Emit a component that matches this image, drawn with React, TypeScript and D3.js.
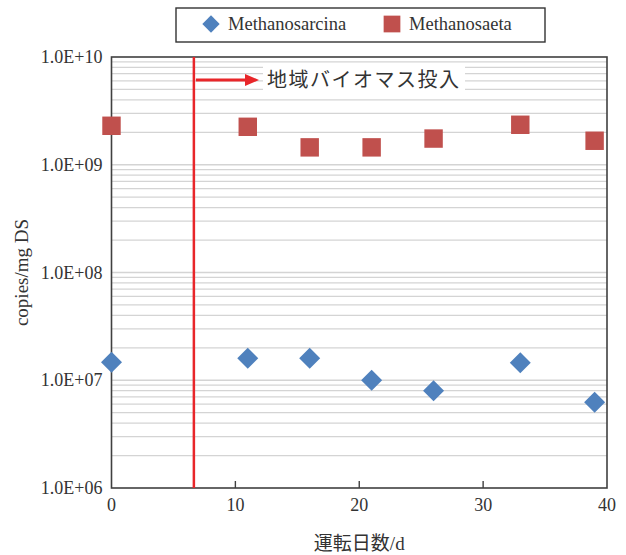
import * as d3 from "d3";
import { useEffect, useRef } from "react";

const days = [0, 11, 16, 21, 26, 33, 39];
const sarcina = [1.47e7, 1.6e7, 1.6e7, 1.0e7, 8.0e6, 1.45e7, 6.25e6];
const saeta = [2.3e9, 2.25e9, 1.45e9, 1.45e9, 1.75e9, 2.35e9, 1.67e9];
const yTicks = [1e6, 1e7, 1e8, 1e9, 1e10];
const xTicks = [0, 10, 20, 30, 40];
const startDay = 6.65;
const seriesNames = ["Methanosarcina", "Methanosaeta"];
const note = "地域バイオマス投入";

const FONT = "'Liberation Serif', 'Times New Roman', 'Noto Sans CJK JP', serif";
const BLUE = "#4f81bd";
const RED = "#c0504d";
const AXIS = "#404040";

const App = () => {
	const ref = useRef(null);
	const margin = { top: 57, left: 111.5, right: 19, bottom: 67 };
	const width = 626;
	const height = 555;

	useEffect(() => {
		const svg = d3.select(ref.current);
		svg.selectAll("*").remove();
		const x = d3.scaleLinear().domain([0, 40]).range([margin.left, width - margin.right]);
		const y = d3.scaleLog().domain([1e6, 1e10]).range([height - margin.bottom, margin.top]);

		// minor + major grid
		const grid = [];
		for (let e = 6; e < 10; e++) {
			for (let m = 1; m <= 9; m++) grid.push(m * Math.pow(10, e));
		}
		svg.append("g")
			.selectAll("line")
			.data(grid.filter(v => v > 1e6))
			.enter()
			.append("line")
			.attr("x1", x(0))
			.attr("x2", x(40))
			.attr("y1", d => y(d))
			.attr("y2", d => y(d))
			.attr("stroke", "#d4d4d4")
			.attr("stroke-width", 1.3);

		// annotation background
		svg.append("rect")
			.attr("x", 263)
			.attr("y", 64)
			.attr("width", 202)
			.attr("height", 32)
			.attr("fill", "#fff");

		// frame
		svg.append("rect")
			.attr("x", x(0))
			.attr("y", y(1e10))
			.attr("width", x(40) - x(0))
			.attr("height", y(1e6) - y(1e10))
			.attr("fill", "none")
			.attr("stroke", AXIS)
			.attr("stroke-width", 1.6);

		// x ticks (inside)
		svg.append("g")
			.selectAll("line")
			.data(xTicks.slice(1, -1))
			.enter()
			.append("line")
			.attr("x1", d => x(d))
			.attr("x2", d => x(d))
			.attr("y1", y(1e6))
			.attr("y2", y(1e6) - 7)
			.attr("stroke", AXIS)
			.attr("stroke-width", 1.4);

		svg.append("g")
			.selectAll("text")
			.data(xTicks)
			.enter()
			.append("text")
			.attr("x", d => x(d))
			.attr("y", y(1e6) + 23)
			.attr("text-anchor", "middle")
			.attr("font-family", FONT)
			.attr("font-size", 18)
			.attr("fill", "#333")
			.text(d => d);

		svg.append("g")
			.selectAll("text")
			.data(yTicks)
			.enter()
			.append("text")
			.attr("x", x(0) - 9)
			.attr("y", d => y(d) + 6)
			.attr("text-anchor", "end")
			.attr("font-family", FONT)
			.attr("font-size", 18)
			.attr("fill", "#333")
			.text(d => "1.0E+" + String(Math.round(Math.log10(d))).padStart(2, "0"));

		// axis titles
		svg.append("text")
			.attr("x", (x(0) + x(40)) / 2)
			.attr("y", 550)
			.attr("text-anchor", "middle")
			.attr("font-family", FONT)
			.attr("font-size", 19)
			.attr("fill", "#333")
			.text("運転日数/d");

		svg.append("text")
			.attr("transform", `translate(28, ${(y(1e6) + y(1e10)) / 2}) rotate(-90)`)
			.attr("text-anchor", "middle")
			.attr("font-family", FONT)
			.attr("font-size", 19)
			.attr("fill", "#333")
			.text("copies/mg DS");

		// start line + arrow
		svg.append("line")
			.attr("x1", x(startDay))
			.attr("x2", x(startDay))
			.attr("y1", y(1e10))
			.attr("y2", y(1e6))
			.attr("stroke", "#e8262a")
			.attr("stroke-width", 2.5);

		const ay = 80;
		svg.append("line")
			.attr("x1", x(startDay) + 2)
			.attr("x2", 247)
			.attr("y1", ay)
			.attr("y2", ay)
			.attr("stroke", "#e8262a")
			.attr("stroke-width", 3);
		svg.append("path")
			.attr("d", `M245,${ay - 6}L259,${ay}L245,${ay + 6}Z`)
			.attr("fill", "#e8262a");

		svg.append("text")
			.attr("x", 267)
			.attr("y", ay + 7)
			.attr("font-family", FONT)
			.attr("font-size", 20)
			.attr("fill", "#333")
			.attr("letter-spacing", 1.5)
			.text(note);

		// markers
		const diamond = d3.symbol().type(d3.symbolSquare).size(220);
		const square = d3.symbol().type(d3.symbolSquare).size(340);

		svg.append("g")
			.selectAll("path")
			.data(days.map((d, i) => [d, saeta[i]]))
			.enter()
			.append("path")
			.attr("d", square)
			.attr("transform", d => `translate(${x(d[0])}, ${y(d[1])})`)
			.attr("fill", RED);

		svg.append("g")
			.selectAll("path")
			.data(days.map((d, i) => [d, sarcina[i]]))
			.enter()
			.append("path")
			.attr("d", diamond)
			.attr("transform", d => `translate(${x(d[0])}, ${y(d[1])}) rotate(45)`)
			.attr("fill", BLUE);

		// legend
		svg.append("rect")
			.attr("x", 176)
			.attr("y", 8)
			.attr("width", 369)
			.attr("height", 34)
			.attr("fill", "#fff")
			.attr("stroke", "#333")
			.attr("stroke-width", 1.4);

		svg.append("path")
			.attr("d", d3.symbol().type(d3.symbolSquare).size(150))
			.attr("transform", "translate(211, 24) rotate(45)")
			.attr("fill", BLUE);
		svg.append("path")
			.attr("d", d3.symbol().type(d3.symbolSquare).size(280))
			.attr("transform", "translate(392, 24)")
			.attr("fill", RED);

		svg.append("text")
			.attr("x", 228)
			.attr("y", 30)
			.attr("font-family", FONT)
			.attr("font-size", 18.5)
			.attr("fill", "#333")
			.text(seriesNames[0]);
		svg.append("text")
			.attr("x", 409)
			.attr("y", 30)
			.attr("font-family", FONT)
			.attr("font-size", 18.5)
			.attr("fill", "#333")
			.text(seriesNames[1]);
	}, []);

	return (
		<svg ref={ref} width={width} height={height}
			style={{ position: "absolute", left: 0, top: 0, background: "#fff" }}></svg>
	);
};

export default App;
